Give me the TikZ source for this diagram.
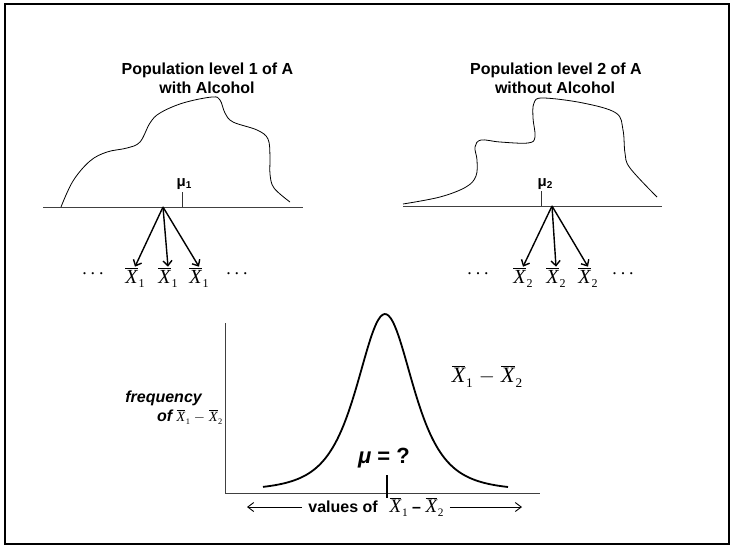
\documentclass[tikz,border=0pt]{standalone}
\usepackage{graphicx}
\usepackage{fontspec}
\setmainfont{Liberation Sans}
\newfontfamily\tms{Liberation Serif}
\usetikzlibrary{arrows.meta}
\newcommand\xb[1]{{\tms\mdseries\upshape\ensuremath{\overline{\mbox{\itshape X}}}\kern0.04em\raisebox{-0.24em}{\scalebox{0.6}{#1}}}}
\newcommand\xdiff{\xb{1} \ensuremath{-} \xb{2}}
\newcommand\fs[1]{\fontsize{#1}{#1}\selectfont}
\tikzset{
  frame/.style={line width=1.5pt},
  axisline/.style={line width=1pt, draw=black!75},
  popcurve/.style={line width=0.8pt},
  bell/.style={line width=1.8pt},
  sample/.style={line width=1.4pt, -{Straight Barb[length=5pt,width=9pt,line width=1.4pt]}},
  valarrow/.style={line width=0.9pt, -{Straight Barb[length=6pt,width=9pt]}},
  title/.style={font=\fs{16}\bfseries, anchor=base, inner sep=0pt},
  mulabel/.style={font=\fs{15}\bfseries, anchor=base, inner sep=0pt},
  xlabel/.style={font=\fs{20}, anchor=base, inner sep=1pt},
  dots/.style={font=\fs{18}\tms, anchor=base, inner sep=0pt},
  tick/.style={line width=0.8pt, draw=black!80}
}
\begin{document}
\begin{tikzpicture}[x=1pt,y=-1pt]
\useasboundingbox (0,0) rectangle (731,546);
\draw[frame] (5,4) rectangle (729,544);

% titles
\node[title] (t1a) at (207.5,74) {Population level 1 of A};
\node[title] (t1b) at (207,93) {with Alcohol};
\node[title] (t2a) at (556,74) {Population level 2 of A};
\node[title] (t2b) at (555,93) {without Alcohol};

% left population
\coordinate (l1) at (43,207);
\coordinate (l2) at (303,207);
\draw[axisline] (l1) -- (l2);
\draw[popcurve] plot[smooth, tension=0.6] coordinates {(61,207) (73,181) (90,161) (107,152) (127,148) (140,142) (150,123) (160,113) (183,103) (212,97) (220,100) (225,113) (233,122) (257,130) (268,139) (270,157) (270,174) (274,188) (290,202)};
\coordinate (mu1b) at (182.7,207);
\coordinate (mu1t) at (182.7,192);
\draw[tick] (mu1b) -- (mu1t);
\node[mulabel] (mu1) at (184,186) {μ\raisebox{-2pt}{\fs{10}1}};
\coordinate (o1) at (163,207);
\node[xlabel] (x11) at (135,283) {\xb{1}};
\node[xlabel] (x12) at (168,283) {\xb{1}};
\node[xlabel] (x13) at (199,283) {\xb{1}};
\draw[sample] (o1) -- (x11.north);
\draw[sample] (o1) -- (x12.north);
\draw[sample] (o1) -- (x13.north);
\node[dots] (d11) at (93,274) {.\hspace{4pt}.\hspace{4pt}.};
\node[dots] (d12) at (237,274) {.\hspace{4pt}.\hspace{4pt}.};

% right population
\coordinate (r1) at (403,206);
\coordinate (r2) at (662,206);
\draw[axisline] (r1) -- (r2);
\draw[popcurve] plot[smooth, tension=0.6] coordinates {(403,204) (440,197) (466,187) (476,176) (477,160) (475,147) (481,140) (500,142) (528,143) (535,137) (533,118) (534,103) (543,98) (583,103) (616,113) (623,130) (625,153) (630,168) (657,197)};
\coordinate (mu2b) at (541.7,206);
\coordinate (mu2t) at (541.7,191);
\draw[tick] (mu2b) -- (mu2t);
\node[mulabel] (mu2) at (545,186) {μ\raisebox{-2pt}{\fs{10}2}};
\coordinate (o2) at (552,206);
\node[xlabel] (x21) at (523,283) {\xb{2}};
\node[xlabel] (x22) at (556,283) {\xb{2}};
\node[xlabel] (x23) at (588,283) {\xb{2}};
\draw[sample] (o2) -- (x21.north);
\draw[sample] (o2) -- (x22.north);
\draw[sample] (o2) -- (x23.north);
\node[dots] (d21) at (478,274) {.\hspace{4pt}.\hspace{4pt}.};
\node[dots] (d22) at (623,274) {.\hspace{4pt}.\hspace{4pt}.};

% bottom graph
\coordinate (ytop) at (225,323);
\coordinate (orig) at (225,493);
\coordinate (xend) at (540,493);
\draw[axisline] (ytop) -- (orig) -- (xend);
\draw[bell] plot[domain=263:508, samples=120, smooth] (\x, {491 - 177/((1+(\x-385)*(\x-385)/2683)^2)});
\coordinate (mt) at (387,475);
\coordinate (mb) at (387,498);
\draw[line width=2pt] (mt) -- (mb);
\node[font=\fs{22}\bfseries, anchor=base, inner sep=0pt] (mu) at (384,463) {{\itshape μ} = ?};
\node[font=\fs{22}, anchor=base, inner sep=0pt] (diff) at (487,382) {\xdiff};
\node[font=\fs{16}\bfseries\itshape, anchor=base east, inner sep=0pt] (freq) at (202,402) {frequency};
\node[font=\fs{16}\bfseries\itshape, anchor=base west, inner sep=0pt] (freqof) at (157,421) {of {\fs{14}\xdiff}};
\node[font=\fs{16}\bfseries, anchor=base, inner sep=6pt] (vals) at (376,512) {values of\hspace{12pt}{\fs{19}\xb{1}} – {\fs{19}\xb{2}}};
\coordinate (la) at (247,507);
\coordinate (ra) at (522,507);
\draw[valarrow] (la -| vals.west) -- (la);
\draw[valarrow] (ra -| vals.east) -- (ra);
\end{tikzpicture}
\end{document}
